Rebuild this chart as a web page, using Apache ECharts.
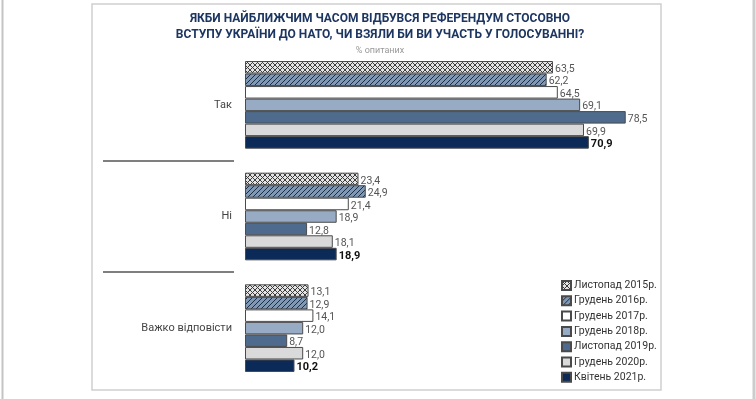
<!DOCTYPE html>
<html>
<head>
<meta charset="utf-8">
<script src="https://cdn.jsdelivr.net/npm/echarts@6/dist/echarts.min.js"></script>
<style>
  html, body { margin: 0; padding: 0; background: #fff; }
  #main { width: 756px; height: 399px; }
</style>
</head>
<body>
<div id="main"></div>
<script>
var categories = ['Так', 'Ні', 'Важко відповісти'];
var seriesNames = ['Листопад 2015р.', 'Грудень 2016р.', 'Грудень 2017р.', 'Грудень 2018р.',
                   'Листопад 2019р.', 'Грудень 2020р.', 'Квітень 2021р.'];
var nov2015 = [63.5, 23.4, 13.1];
var dec2016 = [62.2, 24.9, 12.9];
var dec2017 = [64.5, 21.4, 14.1];
var dec2018 = [69.1, 18.9, 12.0];
var nov2019 = [78.5, 12.8, 8.7];
var dec2020 = [69.9, 18.1, 12.0];
var apr2021 = [70.9, 18.9, 10.2];
var values = [nov2015, dec2016, dec2017, dec2018, nov2019, dec2020, apr2021];

// hatch patterns for the first two years
function makePattern(bg, fg, cross) {
	var c = document.createElement('canvas');
	c.width = 5; c.height = 5;
	var ctx = c.getContext('2d');
	ctx.fillStyle = bg;
	ctx.fillRect(0, 0, 5, 5);
	ctx.strokeStyle = fg;
	ctx.lineWidth = 1;
	ctx.beginPath();
	ctx.moveTo(-1, 6); ctx.lineTo(6, -1);
	if (cross) { ctx.moveTo(-1, -1); ctx.lineTo(6, 6); }
	ctx.stroke();
	return { image: c, repeat: 'repeat' };
}

var fills = [
	makePattern('#e4e4e4', '#3c3c3c', true),
	makePattern('#7f98b6', '#1f2d40', false),
	'#ffffff',
	'#98abc4',
	'#4e6a8c',
	'#dadada',
	'#0b2a58'
];

var series = seriesNames.map(function(name, i) {
	var last = i === seriesNames.length - 1;
	return {
		name: name,
		type: 'bar',
		data: values[i],
		barGap: 0,
		barCategoryGap: '21.5%',
		itemStyle: { color: fills[i], borderColor: '#4a4a4a', borderWidth: 1 },
		label: {
			show: true,
			position: 'right',
			distance: 2,
			offset: [0, 2],
			fontFamily: 'Roboto',
			fontSize: last ? 11 : 10.5,
			fontWeight: last ? 'bold' : 'normal',
			color: last ? '#111' : '#555',
			formatter: function(p) { return p.value.toFixed(1).replace('.', ','); }
		}
	};
});

var option = {
	backgroundColor: '#fff',
	animation: false,
	title: {
		text: 'ЯКБИ НАЙБЛИЖЧИМ ЧАСОМ ВІДБУВСЯ РЕФЕРЕНДУМ СТОСОВНО\nВСТУПУ УКРАЇНИ ДО НАТО, ЧИ ВЗЯЛИ БИ ВИ УЧАСТЬ У ГОЛОСУВАННІ?',
		subtext: '% опитаних',
		left: 375,
		top: 6,
		textAlign: 'center',
		itemGap: 3,
		textStyle: {
			fontFamily: 'Roboto',
			fontWeight: 'bold',
			fontSize: 12,
			lineHeight: 16,
			color: '#1d3561'
		},
		subtextStyle: {
			fontFamily: 'Roboto',
			fontSize: 9,
			color: '#999'
		}
	},
	legend: {
		orient: 'vertical',
		left: 556,
		top: 275,
		itemWidth: 9,
		itemHeight: 9,
		itemGap: 4.3,
		icon: 'rect',
		selectedMode: false,
		textStyle: { fontFamily: 'Roboto', fontSize: 10.5, color: '#333', lineHeight: 11, padding: [0, 0, 0, -2] },
		data: seriesNames
	},
	grid: { left: 245, right: 123, top: 49, height: 335 },
	xAxis: {
		type: 'value',
		min: 0,
		max: 80,
		show: false
	},
	yAxis: {
		type: 'category',
		data: categories,
		inverse: true,
		axisLine: { show: false },
		axisTick: { show: false },
		axisLabel: { margin: 13, fontFamily: 'Roboto', fontSize: 11, color: '#444' }
	},
	graphic: [
		{ type: 'rect', shape: { x: 92, y: 4, width: 569, height: 386 },
		  style: { fill: 'none', stroke: '#cfcfcf', lineWidth: 1.5 }, silent: true },
		{ type: 'line', shape: { x1: 2.5, y1: 0, x2: 2.5, y2: 399 },
		  style: { stroke: '#c4c4c4', lineWidth: 2 }, silent: true },
		{ type: 'line', shape: { x1: 754, y1: 0, x2: 754, y2: 399 },
		  style: { stroke: '#cccccc', lineWidth: 3 }, silent: true },
		{ type: 'line', shape: { x1: 103, y1: 161, x2: 234, y2: 161 },
		  style: { stroke: '#555', lineWidth: 1.5 }, silent: true },
		{ type: 'line', shape: { x1: 103, y1: 272, x2: 234, y2: 272 },
		  style: { stroke: '#555', lineWidth: 1.5 }, silent: true }
	],
	series: series
};

var chart = echarts.init(document.getElementById('main'));
chart.setOption(option, true);
</script>
</body>
</html>
